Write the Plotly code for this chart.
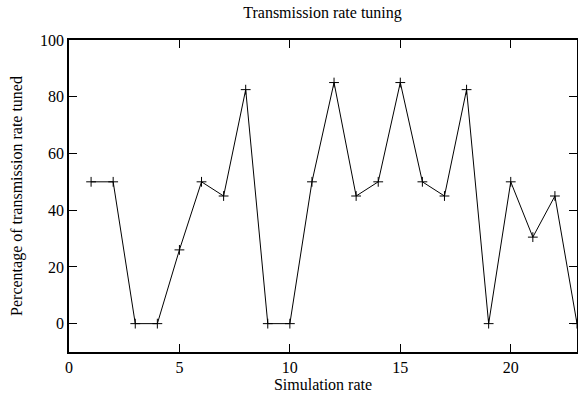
import plotly.graph_objects as go

x_rate = list(range(1, 24))
pct_tuned = [50, 50, 0, 0, 26, 50, 45, 82.5, 0, 0, 50, 85, 45, 50, 85, 50, 45, 82.5, 0, 50, 30.5, 45, 0]
x_ticks = [0, 5, 10, 15, 20]
y_ticks = [0, 20, 40, 60, 80, 100]

fig = go.Figure()
fig.add_trace(go.Scatter(
    x=x_rate, y=pct_tuned, mode="lines+markers",
    line=dict(color="black", width=1),
    marker=dict(symbol="cross-thin", size=7, line=dict(color="black", width=1), color="black"),
    showlegend=False,
))

font = dict(family="Liberation Serif, Times New Roman, serif", size=16, color="black")
fig.update_layout(
    width=578, height=394,
    margin=dict(l=69, r=1, t=40, b=42, autoexpand=False),
    paper_bgcolor="white", plot_bgcolor="white",
    font=font,
    title=dict(text="Transmission rate tuning", x=0.558, xanchor="center", y=0.968, yanchor="middle",
               font=font),
)
fig.update_xaxes(
    range=[0, 23], tickmode="array", tickvals=x_ticks, ticktext=[str(v) for v in x_ticks],
    ticks="inside", ticklen=8, tickcolor="black", tickwidth=1,
    showline=True, linecolor="black", linewidth=1.5, mirror="allticks",
    showgrid=False, zeroline=False, automargin=False,
    title=dict(text="Simulation rate", standoff=0, font=font),
    tickfont=font,
)
fig.update_yaxes(
    range=[-10, 100], tickmode="array", tickvals=y_ticks, ticktext=[str(v) for v in y_ticks],
    ticks="inside", ticklen=8, tickcolor="black", tickwidth=1,
    showline=True, linecolor="black", linewidth=1.5, mirror="allticks",
    showgrid=False, zeroline=False, automargin=False,
    title=dict(text="Percentage of transmission rate tuned", standoff=13, font=font),
    tickfont=font,
)
fig.write_html("out.html", config={"displayModeBar": False},
               post_script="document.body.style.margin='0';document.body.style.overflow='hidden';")
